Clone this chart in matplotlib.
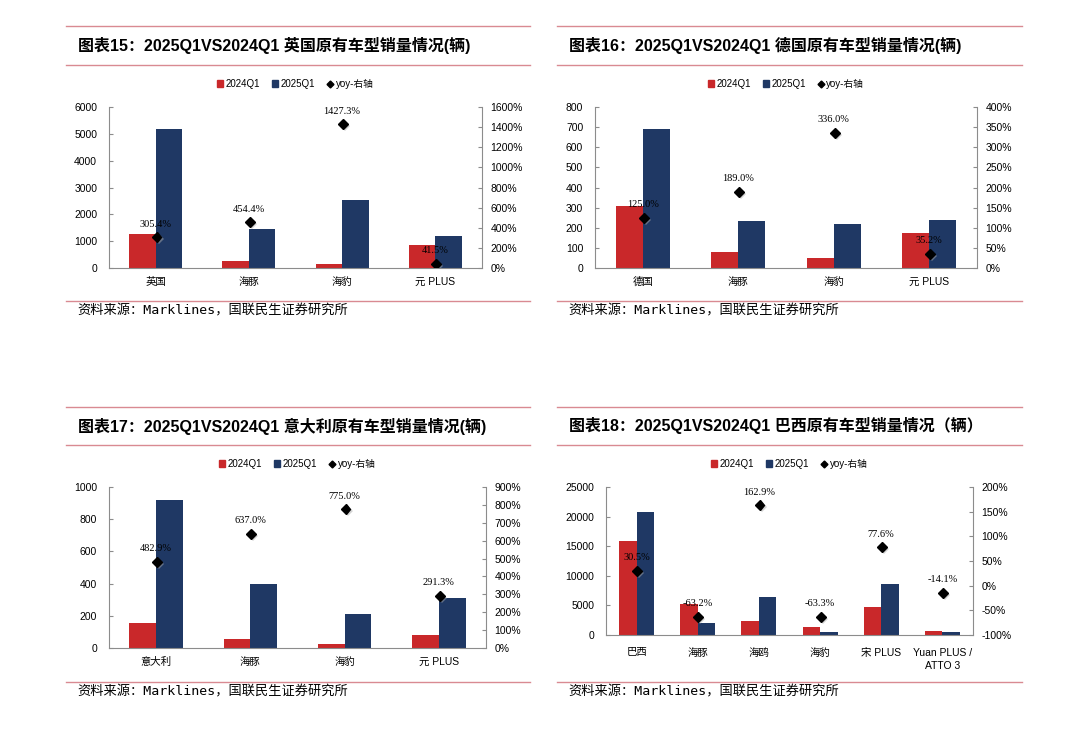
import matplotlib
matplotlib.use('Agg')
import matplotlib.pyplot as plt
import matplotlib.patheffects as pe
from matplotlib.lines import Line2D
from matplotlib.patches import Patch
import numpy as np

plt.rcParams['font.family'] = ['Liberation Sans', 'Noto Sans CJK SC']

# 图表15 英国
uk_cats = ['英国', '海豚', '海豹', '元 PLUS']
uk_2024 = [1270, 260, 165, 840]
uk_2025 = [5180, 1450, 2520, 1190]
uk_yoy = [305.4, 454.4, 1427.3, 41.5]

# 图表16 德国
de_cats = ['德国', '海豚', '海豹', '元 PLUS']
de_2024 = [307, 80, 50, 175]
de_2025 = [691, 236, 218, 237]
de_yoy = [125.0, 189.0, 336.0, 35.2]

# 图表17 意大利
it_cats = ['意大利', '海豚', '海豹', '元 PLUS']
it_2024 = [158, 54, 24, 80]
it_2025 = [921, 398, 210, 313]
it_yoy = [482.9, 637.0, 775.0, 291.3]

# 图表18 巴西
br_cats = ['巴西', '海豚', '海鸥', '海豹', '宋 PLUS', 'Yuan PLUS /\nATTO 3']
br_2024 = [15900, 5300, 2400, 1300, 4800, 650]
br_2025 = [20800, 1950, 6500, 480, 8600, 560]
br_yoy = [30.5, -63.2, 162.9, -63.3, 77.6, -14.1]

RED = '#C9282A'
NAVY = '#1F3864'
LINE = '#D98A92'
SPINE = '#8C8C8C'

W, H = 1080, 737
fig = plt.figure(figsize=(W / 100, H / 100), dpi=100)


def px(x, y):
    return x / W, 1 - y / H


def hline(y, x0, x1):
    fig.add_artist(Line2D([x0 / W, x1 / W], [1 - y / H, 1 - y / H], color=LINE, lw=1.0))


def draw_panel(rect, cats, v24, v25, yoy, ylim, yticks, rlim, rticks, xpad=6.5):
    l, t, r, b = rect
    ax = fig.add_axes([l / W, 1 - b / H, (r - l) / W, (b - t) / H])
    x = np.arange(len(cats))
    w = 0.285
    ax.bar(x - w / 2, v24, w, color=RED, label='2024Q1', zorder=2)
    ax.bar(x + w / 2, v25, w, color=NAVY, label='2025Q1', zorder=2)
    ax.set_xlim(-0.5, len(cats) - 0.5)
    ax.set_ylim(*ylim)
    ax.set_yticks(yticks)
    ax.set_xticks(x)
    ax.set_xticklabels(cats, fontsize=7.5, linespacing=1.45)
    ax.tick_params(axis='x', length=0, pad=xpad)
    ax.tick_params(axis='y', direction='in', length=3, labelsize=7.5, color=SPINE, pad=8.5)
    ax.spines['top'].set_visible(False)
    ax.spines['right'].set_visible(False)
    for s in ['left', 'bottom']:
        ax.spines[s].set_color(SPINE)
        ax.spines[s].set_linewidth(0.8)

    ax2 = ax.twinx()
    ax2.set_ylim(*rlim)
    ax2.set_yticks(rticks)
    ax2.set_yticklabels([f'{v}%' for v in rticks])
    ax2.tick_params(axis='y', direction='in', length=3, labelsize=7.5, color=SPINE, pad=6)
    ax2.spines['top'].set_visible(False)
    ax2.spines['left'].set_visible(False)
    ax2.spines['bottom'].set_visible(False)
    ax2.spines['right'].set_color(SPINE)
    ax2.spines['right'].set_linewidth(0.8)
    ax2.plot(x + 0.01, yoy, linestyle='none', marker='D', markersize=5, color='black', zorder=5,
             path_effects=[pe.SimplePatchShadow(offset=(1.5, -1.5), shadow_rgbFace='#aaaaaa', alpha=0.5),
                           pe.Normal()])
    for xi, yi in zip(x, yoy):
        ax2.annotate(f'{yi:.1f}%', (xi, yi), xytext=(0, 9.5), textcoords='offset points',
                     ha='center', va='center', fontsize=7.5, family='Liberation Serif', zorder=6)

    handles = [Patch(color=RED), Patch(color=NAVY),
               Line2D([], [], linestyle='none', marker='D', markersize=3.5, color='black')]
    ax.legend(handles, ['2024Q1', '2025Q1', 'yoy-右轴'], loc='center',
              bbox_to_anchor=(0.5, 1 + 23 / (b - t)), ncol=3, frameon=False, fontsize=7,
              handlelength=0.6, handleheight=0.6, handletextpad=0.3, columnspacing=1.2)
    return ax


def frame(x0, x1, ytop, ymid, ybot, ysrc, title):
    hline(ytop, x0, x1)
    hline(ymid, x0, x1)
    hline(ybot, x0, x1)
    fig.text(*px(x0 + 12, (ytop + ymid) / 2), title, fontsize=11.5, fontweight='bold',
             va='center', ha='left', family=['Liberation Sans', 'Noto Sans CJK SC'])
    fig.text(*px(x0 + 11, ysrc), '资料来源：Marklines，国联民生证券研究所', fontsize=9.5,
             va='center', ha='left', family=['DejaVu Sans Mono', 'Noto Sans CJK SC'])


frame(66, 530, 26, 65, 301, 311, '图表15：2025Q1VS2024Q1 英国原有车型销量情况(辆)')
frame(557, 1022, 26, 65, 301, 311, '图表16：2025Q1VS2024Q1 德国原有车型销量情况(辆)')
frame(66, 530, 407, 445, 682, 692, '图表17：2025Q1VS2024Q1 意大利原有车型销量情况(辆)')
frame(557, 1022, 407, 445, 682, 692, '图表18：2025Q1VS2024Q1 巴西原有车型销量情况（辆）')

draw_panel((109, 107, 482, 268), uk_cats, uk_2024, uk_2025, uk_yoy,
           (0, 6000), range(0, 6001, 1000), (0, 1600), list(range(0, 1601, 200)))
draw_panel((595, 107, 977, 268), de_cats, de_2024, de_2025, de_yoy,
           (0, 800), range(0, 801, 100), (0, 400), list(range(0, 401, 50)))
draw_panel((109, 487, 486, 648), it_cats, it_2024, it_2025, it_yoy,
           (0, 1000), range(0, 1001, 200), (0, 900), list(range(0, 901, 100)))
draw_panel((606, 487, 973, 635), br_cats, br_2024, br_2025, br_yoy,
           (0, 25000), range(0, 25001, 5000), (-100, 200), list(range(-100, 201, 50)), xpad=9)

fig.savefig('out.png', dpi=100, facecolor='white')
